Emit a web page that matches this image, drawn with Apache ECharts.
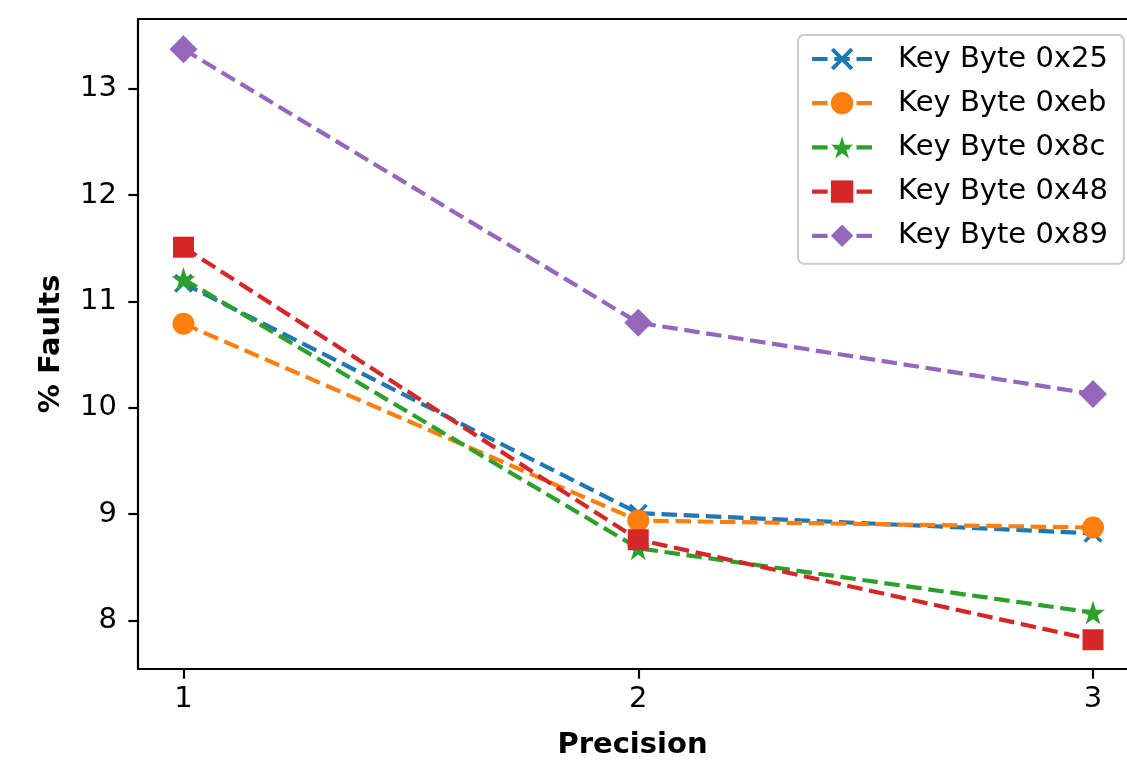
<!DOCTYPE html>
<html>
<head>
<meta charset="utf-8">
<script src="https://cdn.jsdelivr.net/npm/echarts@6/dist/echarts.min.js"></script>
<style>html,body{margin:0;padding:0;background:#fff}#c{width:1127px;height:773px}</style>
</head>
<body>
<div id="c"></div>
<script>
const xValues = [1, 2, 3];
const xTicks = [1, 2, 3];
const yTicks = [8, 9, 10, 11, 12, 13];
const seriesNames = ['Key Byte 0x25', 'Key Byte 0xeb', 'Key Byte 0x8c', 'Key Byte 0x48', 'Key Byte 0x89'];
const byte0x25 = [11.17, 9.01, 8.82];
const byte0xeb = [10.79, 8.94, 8.875];
const byte0x8c = [11.21, 8.68, 8.075];
const byte0x48 = [11.51, 8.76, 7.82];
const byte0x89 = [13.37, 10.80, 10.13];
const allValues = [byte0x25, byte0xeb, byte0x8c, byte0x48, byte0x89];

const colors = ['#1f77b4', '#ff7f0e', '#2ca02c', '#d62728', '#9467bd'];

function starPath() {
  const pts = [];
  for (let i = 0; i < 10; i++) {
    const r = i % 2 === 0 ? 10 : 3.82;
    const a = -Math.PI / 2 + i * Math.PI / 5;
    pts.push((10 + r * Math.cos(a)).toFixed(3) + ',' + (10 + r * Math.sin(a)).toFixed(3));
  }
  return 'path://M' + pts.join(' L') + ' Z';
}
const xPath = 'path://M2.5,0 L10,7.5 L17.5,0 L20,2.5 L12.5,10 L20,17.5 L17.5,20 L10,12.5 L2.5,20 L0,17.5 L7.5,10 L0,2.5 Z';
const symbols = [xPath, 'circle', starPath(), 'rect', 'diamond'];
const symbolSizes = [19, 22, 24, 21, 28];

const FONT = 'DejaVu Sans';
const FS = 29;
const chart = echarts.init(document.getElementById('c'), null, {renderer: 'canvas'});

const series = seriesNames.map((name, i) => ({
  name: name,
  type: 'line',
  data: xValues.map((x, j) => [x, allValues[i][j]]),
  symbol: symbols[i],
  symbolSize: symbolSizes[i],
  showSymbol: true,
  animation: false,
  color: colors[i],
  lineStyle: {color: colors[i], width: 4.2, type: [15.5, 6.7]},
  itemStyle: {color: colors[i], borderWidth: 0},
  z: 2 + i
}));

const spine = {show: true, lineStyle: {color: '#000', width: 2.2}};

chart.setOption({
  animation: false,
  backgroundColor: '#fff',
  textStyle: {fontFamily: FONT},
  grid: {left: 138, top: 19, bottom: 104, right: 0, show: false},
  legend: {
    show: true,
    orient: 'vertical',
    left: 798,
    top: 35,
    padding: [9, 16, 13, 12],
    backgroundColor: 'rgba(255,255,255,0.8)',
    borderColor: '#cccccc',
    borderWidth: 2,
    borderRadius: 6,
    itemWidth: 60,
    itemHeight: 28,
    itemGap: 14.2,
    lineStyle: {width: 4.2, type: [15.5, 6.7]},
    textStyle: {fontFamily: FONT, fontSize: FS, lineHeight: 30, color: '#000', padding: [0, 0, 0, 21]},
    data: seriesNames
  },
  xAxis: [{
    type: 'value',
    min: 0.9,
    max: 3.0747,
    name: 'Precision',
    nameLocation: 'middle',
    nameGap: 62,
    nameTextStyle: {fontFamily: FONT, fontSize: FS, fontWeight: 'bold', color: '#000', verticalAlign: 'top'},
    axisLine: spine,
    axisTick: {show: true, length: 9.7, lineStyle: {color: '#000', width: 2.2}, customValues: xTicks},
    axisLabel: {fontFamily: FONT, fontSize: FS, color: '#000', margin: 16, customValues: xTicks, formatter: v => String(v)},
    splitLine: {show: false}
  }, {
    type: 'value',
    position: 'top',
    min: 0.9,
    max: 3.0747,
    axisLine: spine,
    axisTick: {show: false},
    axisLabel: {show: false},
    splitLine: {show: false}
  }],
  yAxis: {
    type: 'value',
    min: 7.545,
    max: 13.655,
    name: '% Faults',
    nameLocation: 'middle',
    nameGap: 72,
    nameTextStyle: {fontFamily: FONT, fontSize: FS, fontWeight: 'bold', color: '#000'},
    axisLine: spine,
    axisTick: {show: true, length: 9.7, lineStyle: {color: '#000', width: 2.2}, customValues: yTicks},
    axisLabel: {fontFamily: FONT, fontSize: FS, color: '#000', margin: 21, customValues: yTicks, formatter: v => String(v)},
    splitLine: {show: false}
  },
  series: series
});
</script>
</body>
</html>
